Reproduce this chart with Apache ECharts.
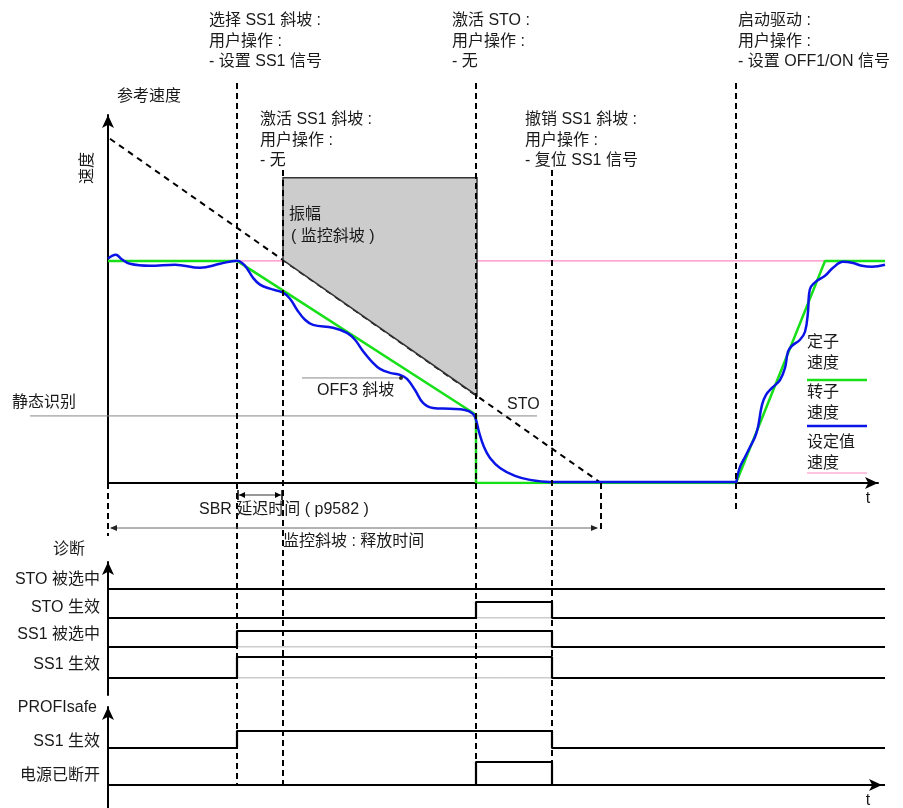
<!DOCTYPE html>
<html>
<head>
<meta charset="utf-8">
<title>SS1 时序图</title>
<script src="https://cdn.jsdelivr.net/npm/echarts@6/dist/echarts.min.js"></script>
<style>
  html, body { margin: 0; padding: 0; background: #fff; }
  #chart { width: 903px; height: 808px; }
</style>
</head>
<body>
<div id="chart"></div>
<script>
// time axis: 0 = speed axis origin; speed: 100 = setpoint
var eventTimes = [129, 175, 368, 444, 493, 628]; // 选择SS1, 激活SS1, 激活STO, 撤销SS1, 释放时间结束, 启动驱动
var endTime = 777;

var setpointSpeed = [[0, 100], [777, 100]];
var referenceSpeed = [[2, 155], [493, 0]];
var statorSpeed = [[0, 100], [129, 100], [368, 30.7], [368, 0], [628, 0], [717, 100], [777, 100]];
var rotorSpeed = [
  [0, 101.0], [4, 102.3], [8, 102.8], [13, 101.0], [22, 98.7], [42, 97.8], [67, 98.3], [92, 96.9],
  [112, 98.7], [129, 100.1], [137, 97.8], [145, 92.4], [152, 89.3], [162, 87.5], [175, 85.7],
  [182, 83.0], [189, 78.0], [197, 73.5], [205, 71.2], [225, 69.9], [239, 67.6], [247, 64.5],
  [254, 60.0], [265, 54.1], [272, 51.4], [282, 49.6], [292, 48.7], [299, 46.9], [307, 41.9],
  [315, 36.1], [325, 33.8], [342, 33.4], [357, 32.9], [365, 31.1], [368, 28.4], [371, 23.0],
  [376, 16.2], [382, 11.3], [392, 6.8], [407, 3.2], [422, 1.4], [442, 0.5], [628, 0.5],
  [629, 2.3], [632, 7.2], [637, 11.7], [642, 16.2], [647, 20.7], [650, 25.2], [654, 35.2],
  [658, 39.7], [664, 42.8], [672, 46.4], [677, 51.8], [680, 59.1], [684, 61.8], [692, 64.5],
  [697, 68.1], [700, 77.1], [701, 84.8], [703, 88.4], [709, 91.1], [717, 93.3], [725, 96.9],
  [735, 99.6], [744, 99.2], [754, 97.8], [764, 97.4], [777, 98.3]
];
var monitorBox = [[175, 137.5], [369, 137.5], [369, 39.3], [175, 100.4]];
var standstillLine = [[-78, 30.2], [429, 30.2]];
var off3Line = [[194, 47.3], [293, 47.3]];

var signalNames = ['STO 被选中', 'STO 生效', 'SS1 被选中', 'SS1 生效', 'SS1 生效', '电源已断开'];
var signalSteps = [
  [[0, 0], [777, 0]],
  [[0, 0], [368, 1], [444, 0], [777, 0]],
  [[0, 0], [129, 1], [444, 0], [777, 0]],
  [[0, 0], [129, 1], [444, 0], [777, 0]],
  [[0, 0], [129, 1], [444, 0], [777, 0]],
  [[0, 0], [368, 1], [444, 0], [777, 0]]
];

// layout of the signal rows (pixels)
var rowHigh = [573, 602, 631, 657, 731, 762];
var rowBase = [589, 618, 647, 678, 748, 785];
var rowLabelY = [580, 608, 635, 665, 742, 776];
var rowThinBase = [false, true, true, true, false, false];

var FONT = '16px "Liberation Sans", "Noto Sans CJK SC", sans-serif';
var INK = '#1a1a1a';
var GREEN = '#18e018', BLUE = '#0a14e6', PINK = '#ff88c4';

var chart = echarts.init(document.getElementById('chart'));

var arrowLine = {
  show: true,
  onZero: false,
  symbol: ['none', 'arrow'],
  symbolSize: [9, 13],
  lineStyle: { color: '#000', width: 2 }
};
var hiddenAxis = function (type, gi, min, max) {
  return { type: type, gridIndex: gi, min: min, max: max, show: false };
};
var arrowAxis = function (gi, min, max, show) {
  return { type: 'value', gridIndex: gi, min: min, max: max,
    axisLine: show ? arrowLine : { show: false },
    axisTick: { show: false }, axisLabel: { show: false }, splitLine: { show: false } };
};

// grid 0: speed data, grid 1: speed axes (arrows)
var grids = [
  { left: 108, top: 115, width: 777, height: 368 },
  { left: 108, top: 115, width: 770, height: 368 }
];
var xAxes = [hiddenAxis('value', 0, 0, 777), arrowAxis(1, 0, 770, true)];
var yAxes = [hiddenAxis('value', 0, 0, 165.7), arrowAxis(1, 0, 1, true)];

var series = [
  { type: 'line', xAxisIndex: 0, yAxisIndex: 0, data: referenceSpeed, symbol: 'none', z: 1,
    lineStyle: { color: '#000', width: 2, type: [6, 5] } },
  { type: 'line', xAxisIndex: 0, yAxisIndex: 0, data: setpointSpeed, symbol: 'none', z: 2,
    lineStyle: { color: PINK, width: 1.2 } },
  { type: 'custom', xAxisIndex: 0, yAxisIndex: 0, data: [monitorBox[0]], z: 3,
    renderItem: function (params, api) {
      var pts = monitorBox.map(function (p) { return api.coord(p); });
      return { type: 'polygon', shape: { points: pts }, style: { fill: '#cccccc', stroke: '#333', lineWidth: 1.5 } };
    } },
  { type: 'line', xAxisIndex: 0, yAxisIndex: 0, data: off3Line, symbol: 'none', z: 2,
    lineStyle: { color: '#888', width: 1 } },
  { type: 'scatter', xAxisIndex: 0, yAxisIndex: 0, data: [off3Line[1]], symbolSize: 4, z: 6,
    itemStyle: { color: '#000' } },
  { type: 'line', xAxisIndex: 0, yAxisIndex: 0, data: statorSpeed, symbol: 'none', z: 4,
    lineStyle: { color: GREEN, width: 2.5 } },
  { type: 'line', xAxisIndex: 0, yAxisIndex: 0, data: rotorSpeed, symbol: 'none', z: 5, smooth: 0.4,
    lineStyle: { color: BLUE, width: 2.5 } }
];

// signal rows, one small grid each
signalSteps.forEach(function (steps, i) {
  var gi = grids.length;
  grids.push({ left: 108, top: rowHigh[i], width: 777, height: rowBase[i] - rowHigh[i] });
  xAxes.push(hiddenAxis('value', gi, 0, endTime));
  yAxes.push(hiddenAxis('value', gi, 0, 1));
  if (rowThinBase[i]) {
    series.push({ type: 'line', xAxisIndex: gi, yAxisIndex: gi, data: [[0, 0], [endTime, 0]], symbol: 'none', z: 1,
      lineStyle: { color: '#999', width: 1 } });
  }
  series.push({ type: 'line', xAxisIndex: gi, yAxisIndex: gi, data: steps, step: 'end', symbol: 'none', z: 3,
    lineStyle: { color: '#000', width: 2.2 } });
});

// the two axis frames of the lower part
var diagIdx = grids.length;
grids.push({ left: 108, top: 562, width: 774, height: 133 });
xAxes.push(arrowAxis(diagIdx, 0, 774, false));
yAxes.push(arrowAxis(diagIdx, 0, 1, true));
var profIdx = grids.length;
grids.push({ left: 108, top: 707, width: 774, height: 78 });
xAxes.push(arrowAxis(profIdx, 0, 774, true));
yAxes.push(arrowAxis(profIdx, 0, 1, true));

chart.setOption({
  backgroundColor: '#fff',
  animation: false,
  grid: grids,
  xAxis: xAxes,
  yAxis: yAxes,
  series: series
});

// ---- annotations (graphic) ----
function pt(p) { return chart.convertToPixel({ gridIndex: 0 }, p); }
function px(t) { return pt([t, 0])[0]; }

function text(str, x, y, opt) {
  opt = opt || {};
  return {
    type: 'text', x: x, y: y, rotation: opt.rotation || 0, z: 20,
    style: { text: str, font: opt.font || FONT, fill: INK,
      textAlign: opt.align || 'left', align: opt.align || 'left',
      textVerticalAlign: 'middle', verticalAlign: 'middle' }
  };
}
function block(lines, x, y0, dy) {
  return lines.map(function (s, i) { return text(s, x, y0 + i * dy); });
}
function seg(x1, y1, x2, y2, stroke, w, dash) {
  return { type: 'line', z: 15, shape: { x1: x1, y1: y1, x2: x2, y2: y2 },
    style: { stroke: stroke, lineWidth: w, lineDash: dash || null } };
}
function head(x, y, dir, len, half, color) {
  return { type: 'polygon', z: 16, shape: { points: [[x, y], [x - dir * len, y - half], [x - dir * len, y + half]] },
    style: { fill: color } };
}

var g = [];
var xs = eventTimes.map(px);
var x0 = px(0);

// standstill detection level (reaches out to its label)
var s0 = pt(standstillLine[0]), s1 = pt(standstillLine[1]);
g.push(seg(s0[0], s0[1], s1[0], s1[1], '#888', 1));
g[0].z = 1;

// dashed event lines
var dashSpec = [
  [x0, 483, 536], [xs[0], 83, 786], [xs[1], 170, 786], [xs[2], 83, 786],
  [xs[3], 170, 786], [xs[4], 483, 532], [xs[5], 83, 510]
];
dashSpec.forEach(function (d) { g.push(seg(d[0], d[1], d[0], d[2], '#000', 2, [6, 4])); });

// event texts
g = g.concat(block(['选择 SS1 斜坡 :', '用户操作 :', '- 设置 SS1 信号'], xs[0] - 28, 21, 20.5));
g = g.concat(block(['激活 SS1 斜坡 :', '用户操作 :', '- 无'], xs[1] - 23, 120, 20.5));
g = g.concat(block(['激活 STO :', '用户操作 :', '- 无'], xs[2] - 24, 21, 20.5));
g = g.concat(block(['撤销 SS1 斜坡 :', '用户操作 :', '- 复位 SS1 信号'], xs[3] - 27, 120, 20.5));
g = g.concat(block(['启动驱动 :', '用户操作 :', '- 设置 OFF1/ON 信号'], xs[5] + 2, 21, 20.5));

// speed chart labels
g.push(text('参考速度', 117, 97));
g.push(text('速度', 88, 168, { align: 'center', rotation: Math.PI / 2 }));
g.push(text('振幅', 289, 215));
g.push(text('( 监控斜坡 )', 291, 237));
g.push(text('静态识别', 12, 403));
g.push(text('OFF3 斜坡', 317, 391));
g.push(text('STO', 507, 405));
g.push(text('t', 868, 499, { align: 'center' }));
g.push(text('t', 868, 801, { align: 'center' }));

// legend
g = g.concat(block(['定子', '速度'], 807, 343, 20.5));
g.push(seg(807, 380, 867, 380, GREEN, 2.5));
g = g.concat(block(['转子', '速度'], 807, 393, 20.5));
g.push(seg(807, 426, 867, 426, BLUE, 2.5));
g = g.concat(block(['设定值', '速度'], 807, 443, 20.5));
g.push(seg(807, 473, 867, 473, PINK, 1.2));

// SBR delay bracket
g.push(seg(xs[0] + 2, 495, xs[1] - 2, 495, '#333', 1));
g.push(seg(xs[0] + 1, 490, xs[0] + 1, 500, '#000', 1.5));
g.push(seg(xs[1] - 1, 490, xs[1] - 1, 500, '#000', 1.5));
g.push(head(xs[0] + 2, 495, -1, 6, 3, '#000'));
g.push(head(xs[1] - 2, 495, 1, 6, 3, '#000'));
g.push(text('SBR 延迟时间 ( p9582 )', 199, 510));

// release time arrow
g.push(seg(x0 + 3, 528, xs[4] - 4, 528, '#666', 1));
g.push(head(x0 + 2, 528, -1, 7, 3, '#222'));
g.push(head(xs[4] - 3, 528, 1, 7, 3, '#222'));
g.push(text('监控斜坡 : 释放时间', 283, 542));

// lower part
g.push(text('诊断', 53, 550));
signalNames.forEach(function (n, i) { g.push(text(n, 100, rowLabelY[i], { align: 'right' })); });
g.push(text('PROFIsafe', 97, 708, { align: 'right' }));
g.push(seg(x0, 785, x0, 808, '#000', 2));

chart.setOption({ graphic: { elements: g } });
</script>
</body>
</html>
